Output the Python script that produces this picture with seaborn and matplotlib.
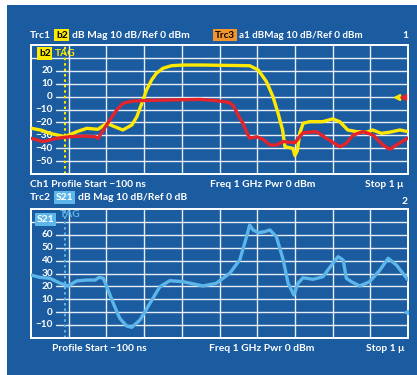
import numpy as np
import pandas as pd
import matplotlib
matplotlib.use("Agg")
import matplotlib.pyplot as plt
import seaborn as sns
from matplotlib.patches import Rectangle

# traces: time in ns, level in dB
b2_t = [-100, -70, -45, -1, 34, 63, 95, 108, 122, 139, 168, 194, 209, 218, 227, 237, 252, 266, 285, 310,
        343, 400, 480, 538, 563, 587, 606, 621, 634, 641, 655, 664, 670, 677, 684, 694, 713, 751, 780,
        801, 824, 850, 879, 897, 922, 947, 976, 1000]
b2_db = [-24.4, -26, -28.4, -31, -27.1, -24.5, -25.3, -23, -20.6, -22.7, -25.8, -22, -15.5, -9, -2.7, 5,
         12.8, 18, 21.8, 23.8, 24.3, 24.3, 24, 23.8, 20.5, 11.5, -0.1, -13, -25.8, -38.7, -39.5, -40,
         -45.5, -42, -28.4, -20.6, -19.4, -19.4, -17.3, -19.4, -25.8, -27.1, -27.5, -25.8, -28.4, -27.5,
         -25.8, -27.1]

a1_t = [-100, -64, -25, 14, 52, 87, 96, 111, 130, 150, 169, 194, 218, 296, 393, 441, 471, 480, 490, 500,
        510, 519, 530, 538, 558, 577, 597, 616, 636, 670, 694, 733, 762, 801, 820, 840, 869, 898, 927,
        947, 966, 1000]
a1_db = [-32.2, -34.8, -32.2, -31, -30.5, -31, -32.2, -25.8, -18.1, -10.4, -5.2, -3.6, -3.2, -2.7, -2.2,
         -3.2, -4.2, -4.8, -7, -12, -17, -21, -28, -32.2, -31, -33, -37.4, -37.4, -34.8, -35.6, -27.9,
         -27.1, -32.2, -38.7, -36.1, -29.7, -27.1, -29.7, -37.4, -40.7, -37.4, -32]

s21_t = [-100, -74, -45, -15, 9, 33, 62, 87, 99, 111, 121, 140, 159, 179, 194, 218, 247, 276, 305, 344,
         402, 441, 480, 509, 529, 538, 548, 563, 582, 597, 616, 636, 650, 667, 679, 694, 723, 752, 777,
         796, 811, 820, 835, 859, 888, 918, 942, 966, 1000]
s21_db = [28.8, 27, 26.3, 22.4, 20.3, 24.2, 24.9, 24.9, 27, 26.3, 19.7, 6.8, -4.9, -10.9, -11.9, -6.2,
          6.8, 19.7, 24.4, 23.6, 20.3, 22.4, 30.2, 40.5, 58.7, 67.8, 63.9, 61.8, 62.6, 63.9, 58.7, 40.5,
          22.4, 13.3, 22.4, 26.7, 25.5, 27.5, 36.6, 43.1, 40.5, 26.3, 23.6, 20.3, 23.6, 32.7, 41.8, 36.6,
          25]

top_ticks = [20, 10, 0, -10, -20, -30, -40, -50]
bot_ticks = [60, 50, 40, 30, 20, 10, 0, -10]
t_start, t_stop = -100, 1000
tag_t = 0
ref_db = 0

BG = "#1b5b9f"
YEL = "#ffe900"
RED = "#e4232b"
LBLUE = "#5cb6ea"
ORANGE = "#f3952a"
GRID = "#e6edf5"

sns.set_style("dark")
plt.rcParams["font.family"] = ["Lato", "DejaVu Sans"]
plt.rcParams["font.weight"] = "bold"

W, H = 417, 375
fig = plt.figure(figsize=(W / 100, H / 100), dpi=100)
fig.patch.set_facecolor("white")
fig.patches.append(Rectangle((7 / W, 0), 1, 1 - 5 / H, transform=fig.transFigure,
                             facecolor=BG, edgecolor="none", zorder=-10))


def make_ax(top_px, bot_px, ylim, ticks):
    ax = fig.add_axes([31 / W, 1 - bot_px / H, 377 / W, (bot_px - top_px) / H])
    ax.set_facecolor(BG)
    ax.set_xlim(t_start, t_stop)
    ax.set_ylim(*ylim)
    ax.set_xticks([])
    ax.set_yticks([])
    ax.grid(False)
    for s in ax.spines.values():
        s.set_color("white")
        s.set_linewidth(1.4)
    step = (t_stop - t_start) / 10
    for k in range(1, 10):
        ax.axvline(t_start + k * step, color=GRID, lw=1, zorder=1)
    for v in range(ylim[0] + 10, ylim[1], 10):
        xmin = 0.066 if v in ticks else 0
        ax.axhline(v, xmin=xmin, color=GRID, lw=1, zorder=1)
    for v in ticks:
        ax.text(0.058, v, f"{v}".replace("-", "\u2212"), transform=ax.get_yaxis_transform(),
                ha="right", va="center", color="white", fontsize=7.2, fontweight="bold")
    return ax


ax1 = make_ax(44.7, 174.3, (-60, 40), top_ticks)
ax2 = make_ax(209.3, 337.7, (-20, 80), bot_ticks)

ax1.axvline(tag_t, color=YEL, lw=1.5, ls=(0, (1.2, 1.4)), zorder=2)
ax2.axvline(tag_t, color=LBLUE, lw=1.5, ls=(0, (1.2, 1.4)), zorder=2)

sns.lineplot(x=b2_t, y=b2_db, ax=ax1, color=YEL, lw=2.4, sort=False, estimator=None, zorder=4)
sns.lineplot(x=a1_t, y=a1_db, ax=ax1, color=RED, lw=2.4, sort=False, estimator=None, zorder=5)
sns.lineplot(x=s21_t, y=s21_db, ax=ax2, color=LBLUE, lw=2.4, sort=False, estimator=None, zorder=4)

# reference level arrows on the right edge
ax1.plot([968], [ref_db], marker="<", color=YEL, ms=4, zorder=6)
ax1.plot([984], [ref_db], marker="<", color=RED, ms=4, zorder=6)
ax2.plot([993], [ref_db], marker="<", color=LBLUE, ms=3, zorder=6)

renderer = fig.canvas.get_renderer()


def row(x, y, parts, size=7.4):
    # draw text pieces one after another, y is the baseline in pixels
    for s, c, bg in parts:
        if bg:
            x += 2
        t = fig.text(x / W, 1 - y / H, s, color=c, fontsize=size, fontweight="bold",
                     ha="left", va="baseline")
        if bg:
            t.set_bbox(dict(facecolor=bg, edgecolor="none", pad=1.2))
        x += t.get_window_extent(renderer).width + (4 if bg else 3)


row(30, 37.7, [("Trc1", "white", None), ("b2", "black", YEL), ("dB Mag 10 dB/Ref 0 dBm", "white", None)])
row(213, 37.7, [("Trc3", "black", ORANGE), ("a1 dBMag 10 dB/Ref 0 dBm", "white", None)], size=7.1)
row(402, 38.3, [("1", "white", None)])
row(37, 56, [("b2", "black", YEL), ("TAG", YEL, None)])

row(30, 187.3, [("Ch1 Profile Start \u2212100 ns", "white", None)])
row(210, 187.3, [("Freq 1 GHz Pwr 0 dBm", "white", None)])
row(365, 187.3, [("Stop 1 \u03bc", "white", None)])
row(30, 200, [("Trc2", "white", None), ("S21", "white", LBLUE), ("dB Mag 10 dB/Ref 0 dB", "white", None)])
row(402, 204, [("2", "white", None)])
row(35, 222, [("S21", "white", LBLUE)])
row(60, 217, [("TAG", LBLUE, None)])

row(52, 350.7, [("Profile Start \u2212100 ns", "white", None)])
row(209, 350.7, [("Freq 1 GHz Pwr 0 dBm", "white", None)])
row(366, 350.7, [("Stop 1 \u03bc", "white", None)])

fig.savefig("out.png", dpi=100, facecolor=fig.get_facecolor())
